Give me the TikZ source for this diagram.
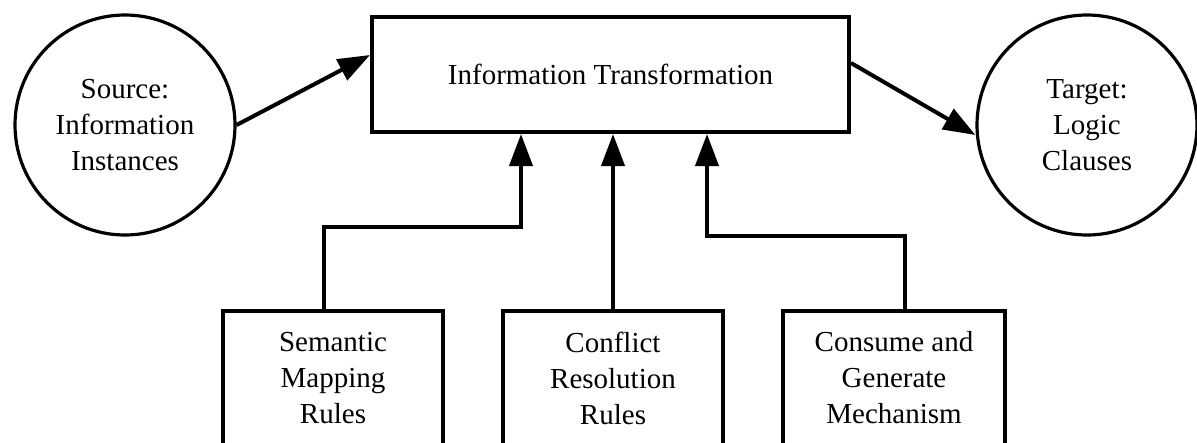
\documentclass[tikz,border=0pt]{standalone}
\usepackage{fontspec}
\setmainfont{Liberation Serif}
\newfontfamily\labelfont{Liberation Serif}
\usetikzlibrary{arrows.meta}
\begin{document}
\begin{tikzpicture}[x=1pt,y=-1pt,
  every node/.style={font=\labelfont\fontsize{29}{36}\selectfont, align=center, inner sep=0pt},
  endpoint/.style={circle, draw, line width=3.2pt, minimum size=220pt},
  procbox/.style={rectangle, draw, line width=4pt},
  arr/.style={line width=4pt, -{Triangle[length=32pt,width=23pt]}},
  link/.style={line width=4pt}
]
\useasboundingbox (0,0) rectangle (1197,442);

% main nodes
\node[endpoint] (src) at (125,125) {Source:\\Information\\Instances};
\node[endpoint] (dst) at (1087,125) {Target:\\Logic\\Clauses};
\node[procbox, minimum width=477pt, minimum height=115pt] (trans) at (610.5,74.5) {Information Transformation};

% supporting inputs
\node[procbox, minimum width=220pt, minimum height=134pt] (rules) at (333,378) {Semantic\\Mapping\\Rules};
\node[procbox, minimum width=220pt, minimum height=134pt] (conflict) at (613,378) {Conflict\\Resolution\\Rules};
\node[procbox, minimum width=222pt, minimum height=134pt] (mech) at (894,378) {Consume and\\Generate\\Mechanism};

% elbow points
\coordinate (k1) at (521,227);
\coordinate (k3) at (707,236);

% flow
\draw[arr] (src.east) -- ([yshift=19.5pt]trans.west);
\draw[arr] ([yshift=11.5pt]trans.east) -- ([yshift=-10pt]dst.west);
\draw[arr] ([xshift=-9pt]rules.north) |- (k1) -- (k1 |- trans.south);
\draw[arr] (conflict.north) -- (conflict.north |- trans.south);
\draw[arr] ([xshift=11pt]mech.north) |- (k3) -- (k3 |- trans.south);
\end{tikzpicture}
\end{document}
